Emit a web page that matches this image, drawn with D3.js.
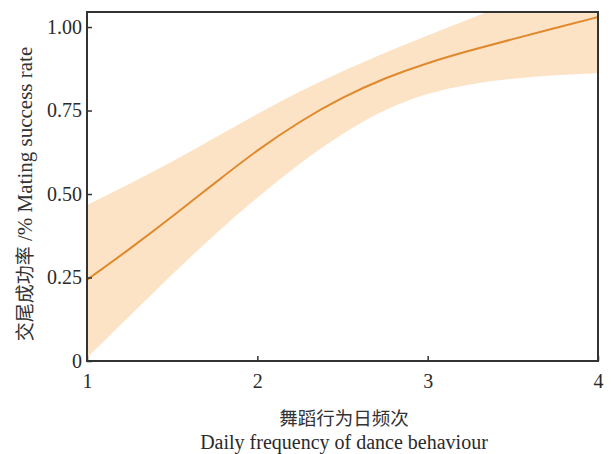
<!DOCTYPE html>
<html><head><meta charset="utf-8">
<script src="https://cdn.jsdelivr.net/npm/d3@7"></script>
<style>body{margin:0;background:#fff}svg{display:block}</style>
</head><body>
<script>
const xValues = [1.0,1.25,1.5,1.75,2.0,2.25,2.5,2.75,3.0,3.25,3.5,3.75,4.0];
const fitValues = [0.243,0.335,0.432,0.533,0.632,0.718,0.79,0.848,0.893,0.93,0.964,0.997,1.03];
const upperValues = [0.467,0.53,0.597,0.668,0.74,0.808,0.868,0.924,0.975,1.025,1.075,1.125,1.175];
const lowerValues = [0.01,0.135,0.26,0.38,0.49,0.593,0.683,0.755,0.803,0.83,0.846,0.856,0.862];
const xTicks = [1,2,3,4];
const xTickLabels = ["1","2","3","4"];
const yTicks = [0,0.25,0.5,0.75,1.0];
const yTickLabels = ["0","0.25","0.50","0.75","1.00"];
const xTitleCn = "舞蹈行为日频次";
const xTitleEn = "Daily frequency of dance behaviour";
const yTitleCn = "交尾成功率";
const yTitleEn = " /% Mating success rate";

const W = 611, H = 454;
const m = {left:87, right:13, top:12, bottom:93};
const svg = d3.select("body").append("svg").attr("width",W).attr("height",H);
const x = d3.scaleLinear().domain([1,4]).range([m.left, W-m.right]);
const y = d3.scaleLinear().domain([0,1.045]).range([H-m.bottom, m.top]);

svg.append("clipPath").attr("id","clip").append("rect")
  .attr("x",m.left).attr("y",m.top).attr("width",W-m.left-m.right).attr("height",H-m.top-m.bottom);

const data = xValues.map((v,i)=>({x:v, f:fitValues[i], lo:lowerValues[i], hi:upperValues[i]}));
const g = svg.append("g").attr("clip-path","url(#clip)");
g.append("path").datum(data)
  .attr("d", d3.area().x(d=>x(d.x)).y0(d=>y(d.lo)).y1(d=>y(d.hi)).curve(d3.curveBasis))
  .attr("fill","#fde3c6");
g.append("path").datum(data)
  .attr("d", d3.line().x(d=>x(d.x)).y(d=>y(d.f)).curve(d3.curveBasis))
  .attr("fill","none").attr("stroke","#e0882c").attr("stroke-width",2);

const font = "'Liberation Serif', 'Times New Roman', serif";
const cjk = "'Noto Sans CJK SC', sans-serif";
const ax = svg.append("g").attr("transform",`translate(0,${H-m.bottom})`)
  .call(d3.axisBottom(x).tickValues(xTicks).tickFormat((d,i)=>xTickLabels[i]).tickSizeInner(-5).tickSizeOuter(0).tickPadding(13));
const ay = svg.append("g").attr("transform",`translate(${m.left},0)`)
  .call(d3.axisLeft(y).tickValues(yTicks).tickFormat((d,i)=>yTickLabels[i]).tickSizeInner(-5).tickSizeOuter(0).tickPadding(5));
[ax,ay].forEach(a=>{
  a.select(".domain").remove();
  a.selectAll("line").attr("stroke","#333").attr("stroke-width",1.5);
  a.selectAll("text").attr("font-family",font).attr("font-size",20).attr("fill","#2a2a2a");
});
ax.selectAll("text").attr("dy","0.71em");

svg.append("rect").attr("x",m.left).attr("y",m.top)
  .attr("width",W-m.left-m.right).attr("height",H-m.top-m.bottom)
  .attr("fill","none").attr("stroke","#333").attr("stroke-width",2);

svg.append("text").attr("x",344).attr("y",425).attr("text-anchor","middle")
  .attr("font-family",cjk).attr("font-size",18.5).attr("fill","#333").text(xTitleCn);
svg.append("text").attr("x",344).attr("y",449).attr("text-anchor","middle")
  .attr("font-family",font).attr("font-size",20).attr("fill","#2a2a2a").text(xTitleEn);

const yt = svg.append("text").attr("transform",`translate(32,194) rotate(-90)`).attr("text-anchor","middle")
  .attr("fill","#333");
yt.append("tspan").attr("font-family",cjk).attr("font-size",19).text(yTitleCn);
yt.append("tspan").attr("font-family",font).attr("font-size",21).text(yTitleEn);
</script>
</body></html>
